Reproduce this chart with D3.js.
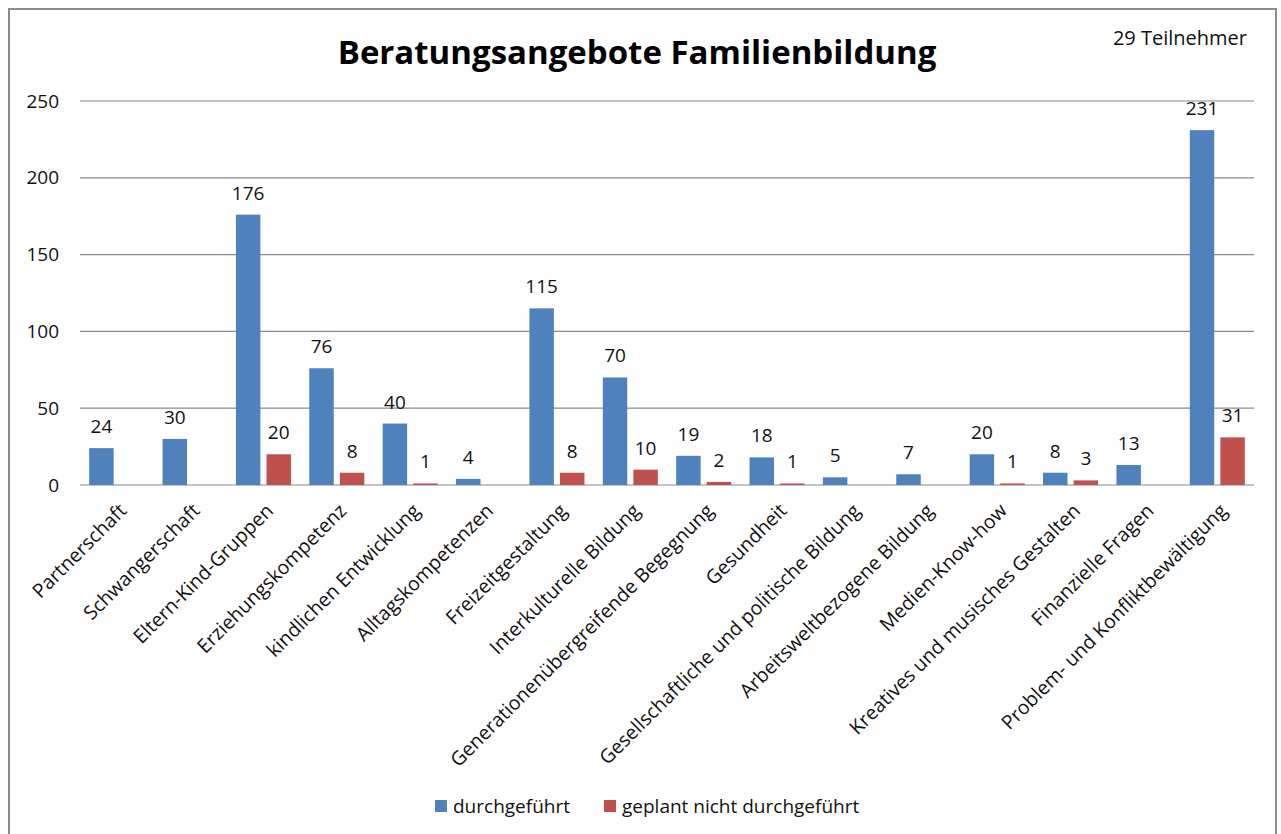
<!DOCTYPE html>
<html>
<head>
<meta charset="utf-8">
<script src="https://cdn.jsdelivr.net/npm/d3@7"></script>
<style>
body { margin: 0; background: #fff; }
svg { display: block; font-family: "Open Sans", "Noto Sans", sans-serif; }
</style>
</head>
<body>
<div id="chart"></div>
<script>
var categories = ["Partnerschaft", "Schwangerschaft", "Eltern-Kind-Gruppen", "Erziehungskompetenz",
    "kindlichen Entwicklung", "Alltagskompetenzen", "Freizeitgestaltung", "Interkulturelle Bildung",
    "Generationenübergreifende Begegnung", "Gesundheit", "Gesellschaftliche und politische Bildung",
    "Arbeitsweltbezogene Bildung", "Medien-Know-how", "Kreatives und musisches Gestalten",
    "Finanzielle Fragen", "Problem- und Konfliktbewältigung"];
var durchgefuehrt = [24, 30, 176, 76, 40, 4, 115, 70, 19, 18, 5, 7, 20, 8, 13, 231];
var geplant = [null, null, 20, 8, 1, null, 8, 10, 2, 1, null, null, 1, 3, null, 31];
var seriesNames = ["durchgeführt", "geplant nicht durchgeführt"];
var seriesColors = ["#4F81BD", "#C0504D"];
var yTicks = [0, 50, 100, 150, 200, 250];

var width = 1281, height = 834;
var plotLeft = 80, plotRight = 1254, plotTop = 101, plotBottom = 485;

var svg = d3.select("#chart").append("svg")
    .attr("width", width)
    .attr("height", height);

// frame
svg.append("rect")
    .attr("x", 9).attr("y", 9)
    .attr("width", 1267).attr("height", 840)
    .attr("fill", "#fff")
    .attr("stroke", "#8c8c8c")
    .attr("stroke-width", 2);

var y = d3.scaleLinear().domain([0, 250]).range([plotBottom, plotTop]);
var x0 = d3.scaleBand().domain(categories).range([plotLeft, plotRight]);
var groupW = x0.bandwidth() * 0.75;
var x1 = d3.scaleBand().domain(seriesNames).range([0, groupW]).paddingInner(0.2);

// gridlines
svg.append("g").selectAll("line")
    .data(yTicks)
    .enter().append("line")
    .attr("x1", plotLeft).attr("x2", plotRight)
    .attr("y1", function(d) { return y(d); })
    .attr("y2", function(d) { return y(d); })
    .attr("stroke", "#8a8a8a")
    .attr("stroke-width", 1.2);

// y tick labels
svg.append("g").selectAll("text")
    .data(yTicks)
    .enter().append("text")
    .attr("x", 59)
    .attr("y", function(d) { return y(d); })
    .attr("dy", "0.35em")
    .attr("text-anchor", "end")
    .attr("font-size", 19)
    .attr("fill", "#111")
    .text(function(d) { return d; });

var rows = categories.map(function(c, i) {
    return [{cat: c, s: seriesNames[0], v: durchgefuehrt[i], col: seriesColors[0]},
            {cat: c, s: seriesNames[1], v: geplant[i], col: seriesColors[1]}];
});
var flat = [].concat.apply([], rows).filter(function(d) { return d.v != null; });

var offset = (x0.bandwidth() - groupW) / 2;

svg.append("g").selectAll("rect")
    .data(flat)
    .enter().append("rect")
    .attr("x", function(d) { return x0(d.cat) + offset + x1(d.s); })
    .attr("y", function(d) { return y(d.v); })
    .attr("width", x1.bandwidth())
    .attr("height", function(d) { return y(0) - y(d.v); })
    .attr("fill", function(d) { return d.col; });

svg.append("g").selectAll("text")
    .data(flat)
    .enter().append("text")
    .attr("x", function(d) { return x0(d.cat) + offset + x1(d.s) + x1.bandwidth() / 2; })
    .attr("y", function(d) { return y(d.v) - 15; })
    .attr("text-anchor", "middle")
    .attr("font-size", 19)
    .attr("fill", "#111")
    .text(function(d) { return d.v; });

// category labels
svg.append("g").selectAll("text")
    .data(categories)
    .enter().append("text")
    .attr("transform", function(d) {
        return "translate(" + (x0(d) + x0.bandwidth() / 2 + 1) + "," + 502 + ") rotate(-45)";
    })
    .attr("dy", "0.72em")
    .attr("text-anchor", "end")
    .attr("font-size", 19.5)
    .attr("fill", "#111")
    .text(function(d) { return d; });

// title
svg.append("text")
    .attr("x", 637).attr("y", 64)
    .attr("text-anchor", "middle")
    .attr("font-size", 33)
    .attr("font-weight", "bold")
    .attr("fill", "#000")
    .text("Beratungsangebote Familienbildung");

svg.append("text")
    .attr("x", 1247).attr("y", 45)
    .attr("text-anchor", "end")
    .attr("font-size", 20)
    .attr("fill", "#111")
    .text("29 Teilnehmer");

// legend
var legendX = [435, 604];
var legend = svg.append("g").selectAll("g")
    .data(seriesNames)
    .enter().append("g")
    .attr("transform", function(d, i) { return "translate(" + legendX[i] + ",800)"; });
legend.append("rect")
    .attr("width", 12).attr("height", 12)
    .attr("fill", function(d, i) { return seriesColors[i]; });
legend.append("text")
    .attr("x", 18).attr("y", 6)
    .attr("dy", "0.35em")
    .attr("font-size", 19)
    .attr("fill", "#111")
    .text(function(d) { return d; });
</script>
</body>
</html>
